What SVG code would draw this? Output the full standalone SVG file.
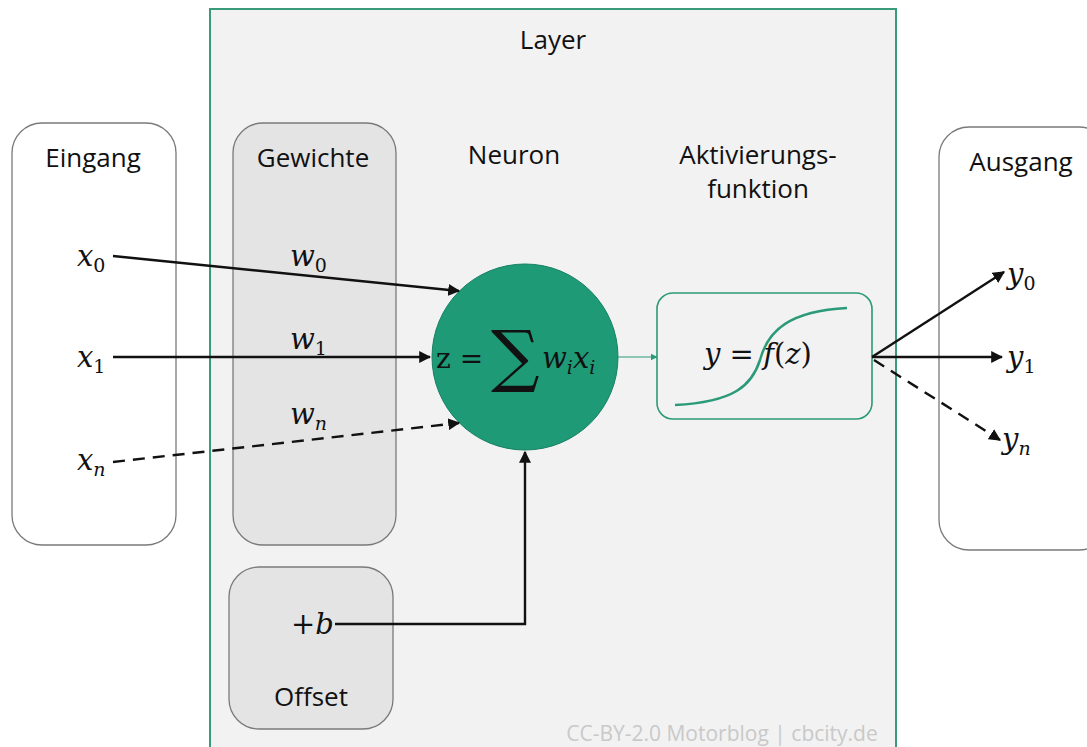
<svg xmlns="http://www.w3.org/2000/svg" width="1087" height="747" viewBox="0 0 1087 747">
  <style>
    .lbl { font-family: "Open Sans", "Liberation Sans", sans-serif; font-size: 26px; fill: #111; text-anchor: middle; }
    .math { font-family: "DejaVu Serif", "Liberation Serif", serif; font-style: italic; font-size: 29px; fill: #111; }
    .sub { font-size: 19px; font-style: normal; }
    .subi { font-size: 19px; font-style: italic; }
    .up { font-style: normal; }
    .box { stroke: #7a7a7a; stroke-width: 1.3; }
    .wire { stroke: #111; stroke-width: 2.4; fill: none; }
    .dash { stroke-dasharray: 12 8; }
  </style>
  <defs>
    <marker id="arr" viewBox="0 0 10 10" refX="9" refY="5" markerWidth="5" markerHeight="5" orient="auto">
      <path d="M0,0 L10,5 L0,10 z" fill="#111"/>
    </marker>
    <marker id="arrG" viewBox="0 0 10 10" refX="9" refY="5" markerWidth="6" markerHeight="6" orient="auto">
      <path d="M0,0 L10,5 L0,10 z" fill="#2a9a78"/>
    </marker>
  </defs>

  <rect width="1087" height="747" fill="#ffffff"/>

  <!-- layer frame -->
  <g id="layer">
    <rect x="210" y="9" width="686" height="760" fill="#f2f2f2" stroke="#3a9a7c" stroke-width="2"/>
    <text class="lbl" x="553" y="49">Layer</text>
    <text x="722" y="741" font-family="Open Sans, Liberation Sans, sans-serif" font-size="21" fill="#c9c9c9" text-anchor="middle">CC-BY-2.0 Motorblog | cbcity.de</text>
  </g>

  <g id="eingang">
    <rect class="box" x="12" y="123" width="164" height="422" rx="30" fill="#ffffff"/>
    <text class="lbl" x="93" y="167">Eingang</text>
  </g>

  <g id="gewichte">
    <rect class="box" x="233" y="123" width="163" height="422" rx="30" fill="#e4e4e4"/>
    <text class="lbl" x="313" y="167">Gewichte</text>
  </g>

  <g id="offset">
    <rect class="box" x="229" y="567" width="164" height="162" rx="30" fill="#e4e4e4"/>
    <text class="lbl" x="311" y="706">Offset</text>
  </g>

  <g id="ausgang">
    <rect class="box" x="939" y="127" width="170" height="423" rx="30" fill="#ffffff"/>
    <text class="lbl" x="1021" y="171">Ausgang</text>
  </g>

  <g id="neuron">
    <text class="lbl" x="514" y="164">Neuron</text>
    <circle cx="525" cy="357" r="93" fill="#1e9a76" stroke="#178064" stroke-width="1"/>
    <text x="436" y="368" font-family="DejaVu Serif, Liberation Serif, serif" font-size="28" fill="#111">z =</text>
    <text x="491" y="379" font-family="DejaVu Serif, Liberation Serif, serif" font-size="68" fill="#111">∑</text>
    <text class="math" x="542" y="368">w<tspan class="subi" dy="6">i</tspan><tspan dy="-6">x</tspan><tspan class="subi" dy="6">i</tspan></text>
  </g>

  <g id="aktivierung">
    <text class="lbl" x="758" y="164">Aktivierungs-</text>
    <text class="lbl" x="758" y="198">funktion</text>
    <rect x="657" y="293" width="215" height="126" rx="16" fill="#f2f2f2" stroke="#2a9a78" stroke-width="1.6"/>
    <path d="M675,405 C735,402 752,385 760,360 C768,330 790,311 847,308" fill="none" stroke="#2a9a78" stroke-width="2.5"/>
    <text class="math" x="704" y="364">y <tspan class="up">=</tspan> f<tspan class="up">(</tspan>z<tspan class="up">)</tspan></text>
  </g>

  <!-- input / output symbols -->
  <g id="symbole">
    <text class="math" x="77" y="266">x<tspan class="sub" dy="6">0</tspan></text>
    <text class="math" x="77" y="367">x<tspan class="sub" dy="6">1</tspan></text>
    <text class="math" x="77" y="470">x<tspan class="subi" dy="6">n</tspan></text>
    <text class="math" x="290" y="266">w<tspan class="sub" dy="6">0</tspan></text>
    <text class="math" x="290" y="349">w<tspan class="sub" dy="6">1</tspan></text>
    <text class="math" x="290" y="424">w<tspan class="subi" dy="6">n</tspan></text>
    <text class="math" x="291" y="634"><tspan class="up">+</tspan>b</text>
    <text class="math" x="1007" y="284">y<tspan class="sub" dy="6">0</tspan></text>
    <text class="math" x="1007" y="367">y<tspan class="sub" dy="6">1</tspan></text>
    <text class="math" x="1002" y="449">y<tspan class="subi" dy="6">n</tspan></text>
  </g>

  <g id="connectors">
    <line class="wire" x1="113" y1="256" x2="459" y2="291" marker-end="url(#arr)"/>
    <line class="wire" x1="113" y1="357" x2="430" y2="357" marker-end="url(#arr)"/>
    <line class="wire dash" x1="113" y1="462" x2="459" y2="423" marker-end="url(#arr)"/>
    <polyline class="wire" points="335,624 525,624 525,452" marker-end="url(#arr)"/>
    <line x1="618" y1="357" x2="657" y2="357" stroke="#2a9a78" stroke-width="1.2" marker-end="url(#arrG)"/>
    <line class="wire" x1="872" y1="357" x2="1004" y2="272" marker-end="url(#arr)"/>
    <line class="wire" x1="872" y1="357" x2="1002" y2="357" marker-end="url(#arr)"/>
    <line class="wire dash" x1="874" y1="360" x2="1000" y2="440" marker-end="url(#arr)"/>
  </g>
</svg>
